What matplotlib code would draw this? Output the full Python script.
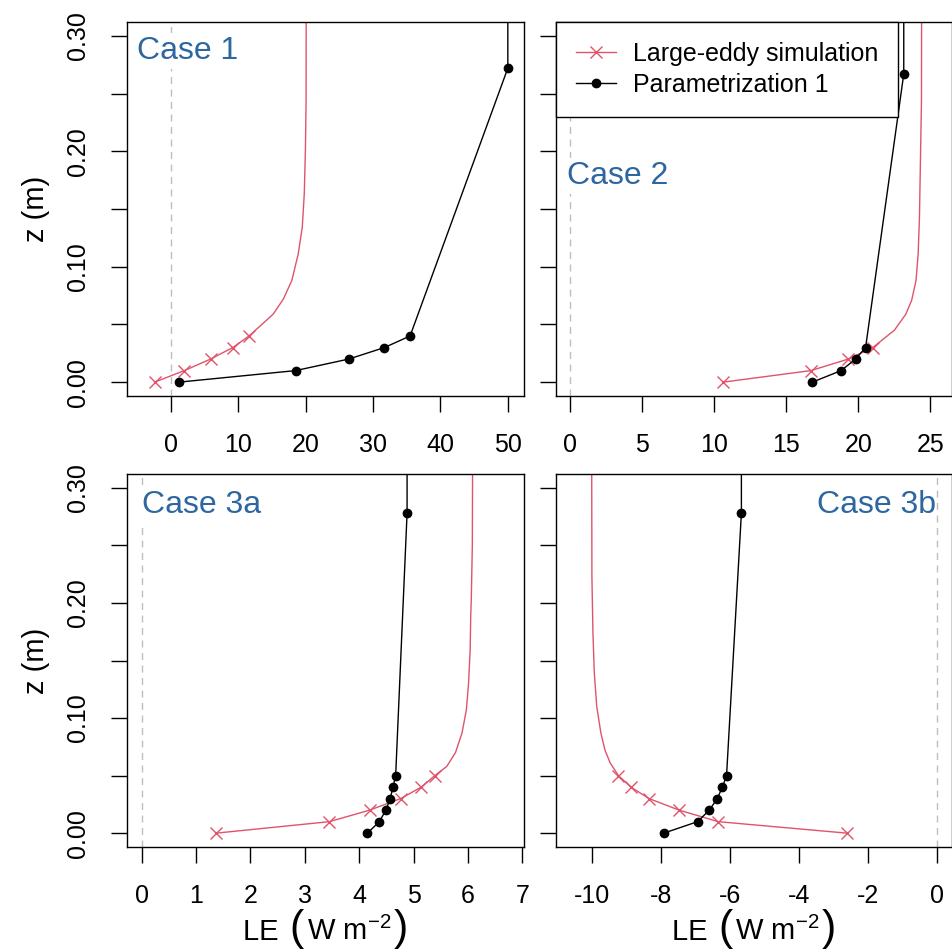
import matplotlib
matplotlib.use("Agg")
import matplotlib.pyplot as plt
from matplotlib.offsetbox import TextArea, HPacker, AnchoredOffsetbox

plt.rcParams['font.family'] = ['Liberation Sans', 'DejaVu Sans']
plt.rcParams['mathtext.fontset'] = 'custom'
plt.rcParams['mathtext.rm'] = 'Liberation Sans'
plt.rcParams['mathtext.it'] = 'Liberation Sans:italic'
plt.rcParams['axes.unicode_minus'] = False

RED = '#DF536B'
BLUE = '#2E67A0'

# ---- data ----
# z of the LES sample points
z_les_1 = [0.0, 0.01, 0.02, 0.03, 0.04]
z_les_2 = [0.0, 0.01, 0.02, 0.03]
z_les_3 = [0.0, 0.01, 0.02, 0.03, 0.04, 0.05]

# case 1
les1_x = [-2.4, 2.0, 5.9, 9.2, 11.6]
les1_curve_x = [11.6, 13.7, 15.2, 16.7, 17.95, 18.9, 19.5, 19.8, 19.97,
                20.07, 20.1]
les1_curve_z = [0.04, 0.051, 0.059, 0.072, 0.088, 0.111, 0.134, 0.163,
                0.201, 0.244, 0.40]
par1_x = [1.2, 18.5, 26.4, 31.7, 35.5, 50.0, 50.0]
par1_z = [0.0, 0.01, 0.02, 0.03, 0.04, 0.272, 0.40]

# case 2
les2_x = [10.6, 16.7, 19.3, 21.0]
les2_curve_x = [21.0, 22.5, 23.3, 23.7, 24.0, 24.15, 24.24, 24.3, 24.38,
                24.4]
les2_curve_z = [0.03, 0.045, 0.059, 0.071, 0.088, 0.111, 0.143, 0.186,
                0.244, 0.40]
par2_x = [16.8, 18.8, 19.8, 20.5, 23.15, 23.15]
par2_z = [0.0, 0.01, 0.02, 0.03, 0.267, 0.40]

# case 3a
les3a_x = [1.36, 3.45, 4.19, 4.76, 5.14, 5.39]
les3a_curve_x = [5.39, 5.61, 5.77, 5.89, 5.97, 6.01, 6.04, 6.05, 6.06,
                 6.08, 6.09]
les3a_curve_z = [0.05, 0.058, 0.070, 0.087, 0.107, 0.130, 0.159, 0.188,
                 0.202, 0.25, 0.40]
par3a_x = [4.15, 4.37, 4.49, 4.57, 4.62, 4.67, 4.88, 4.88]
par3a_z = [0.0, 0.01, 0.02, 0.03, 0.04, 0.05, 0.278, 0.40]

# case 3b
les3b_x = [-2.60, -6.34, -7.47, -8.34, -8.87, -9.23]
les3b_curve_x = [-9.23, -9.47, -9.62, -9.74, -9.86, -9.93, -9.97, -10.0,
                 -10.01]
les3b_curve_z = [0.05, 0.061, 0.072, 0.087, 0.110, 0.139, 0.174, 0.223,
                 0.40]
par3b_x = [-7.92, -6.94, -6.60, -6.37, -6.22, -6.10, -5.67, -5.67]
par3b_z = [0.0, 0.01, 0.02, 0.03, 0.04, 0.05, 0.278, 0.40]

labels = ['Case 1', 'Case 2', 'Case 3a', 'Case 3b']
xticks = [[0, 10, 20, 30, 40, 50], [0, 5, 10, 15, 20, 25],
          [0, 1, 2, 3, 4, 5, 6, 7], [-10, -8, -6, -4, -2, 0]]
xlims = [(-6.5, 52.4), (-1.0, 26.5), (-0.27, 7.03), (-11.04, 0.43)]
yticks = [0.0, 0.05, 0.10, 0.15, 0.20, 0.25, 0.30]
ytick_labels = ['0.00', '', '0.10', '', '0.20', '', '0.30']

W, H = 953, 950
fig = plt.figure(figsize=(W / 100, H / 100), dpi=100)

def box(l, t, r, b):
    return [l / W, 1 - b / H, (r - l) / W, (b - t) / H]

axes = [fig.add_axes(box(127, 22, 524, 396)),
        fig.add_axes(box(556, 22, 952, 396)),
        fig.add_axes(box(127, 474, 524, 847)),
        fig.add_axes(box(556, 474, 952, 847))]

data = [(les1_x, z_les_1, les1_curve_x, les1_curve_z, par1_x, par1_z),
        (les2_x, z_les_2, les2_curve_x, les2_curve_z, par2_x, par2_z),
        (les3a_x, z_les_3, les3a_curve_x, les3a_curve_z, par3a_x, par3a_z),
        (les3b_x, z_les_3, les3b_curve_x, les3b_curve_z, par3b_x, par3b_z)]

def le_label(ax):
    # LE (W m^-2) with tall brackets, like R's bgroup
    small = dict(fontsize=21, color='black')
    big = dict(fontsize=31, color='black')
    parts = [TextArea('LE ', textprops=small),
             TextArea('(', textprops=big),
             TextArea(r'W m$^{-2}$', textprops=small),
             TextArea(')', textprops=big)]
    pack = HPacker(children=parts, align='baseline', pad=0, sep=2)
    anc = AnchoredOffsetbox(loc='upper center', child=pack, pad=0,
                            borderpad=0, frameon=False,
                            bbox_to_anchor=(0.5, -0.166),
                            bbox_transform=ax.transAxes)
    anc.set_clip_on(False)
    ax.add_artist(anc)

for i, ax in enumerate(axes):
    lx, lz, cx, cz, px, pz = data[i]
    ax.axvline(0, color='#BEBEBE', lw=1.0, dashes=(5, 4), zorder=1)
    ax.plot(lx + cx[1:], lz + cz[1:], color=RED, lw=1.0, zorder=2)
    ax.plot(lx, lz, ls='none', marker='x', ms=9, mew=1.0, color=RED,
            zorder=3)
    ax.plot(px, pz, color='black', lw=1.0, marker='o', ms=6, zorder=4)

    ax.set_xlim(*xlims[i])
    ax.set_ylim(-0.012, 0.312)
    ax.set_xticks(xticks[i])
    ax.set_xticklabels([str(v) for v in xticks[i]])
    ax.set_yticks(yticks)
    if i % 2 == 0:
        ax.set_yticklabels(ytick_labels, rotation=90, va='center')
        ax.set_ylabel('z (m)', fontsize=21)
        ax.yaxis.set_label_coords(-0.194, 0.5)
    else:
        ax.set_yticklabels([])
    if i >= 2:
        le_label(ax)
    ax.tick_params(length=11.5, width=1.0, labelsize=18, pad=15)
    for s in ax.spines.values():
        s.set_linewidth(1.0)

# case labels
label_pos = [(0.026, 0.901, 'left'), (0.028, 0.567, 'left'),
             (0.037, 0.895, 'left'), (0.960, 0.895, 'right')]
for ax, lab, (tx, ty, ha) in zip(axes, labels, label_pos):
    kw = {}
    if ha == 'left':
        kw['bbox'] = dict(facecolor='white', edgecolor='none', pad=2)
    ax.text(tx, ty, lab, transform=ax.transAxes, ha=ha, va='baseline',
            fontsize=23, color=BLUE, zorder=5, **kw)

# legend in the second panel
h1, = axes[1].plot([], [], color=RED, lw=1.0, marker='x', ms=9, mew=1.0)
h2, = axes[1].plot([], [], color='black', lw=1.0, marker='o', ms=6)
leg = axes[1].legend([h1, h2], ['Large-eddy simulation', 'Parametrization 1'],
                     loc='upper left', bbox_to_anchor=(0, 0, 0.8636, 1),
                     mode='expand', borderaxespad=0, fancybox=False,
                     edgecolor='black', framealpha=1, fontsize=18,
                     handlelength=1.6, handletextpad=0.7, borderpad=0.8,
                     labelspacing=0.27)
leg.get_frame().set_linewidth(1.0)
leg.set_zorder(6)

fig.savefig('out.png', dpi=100)
